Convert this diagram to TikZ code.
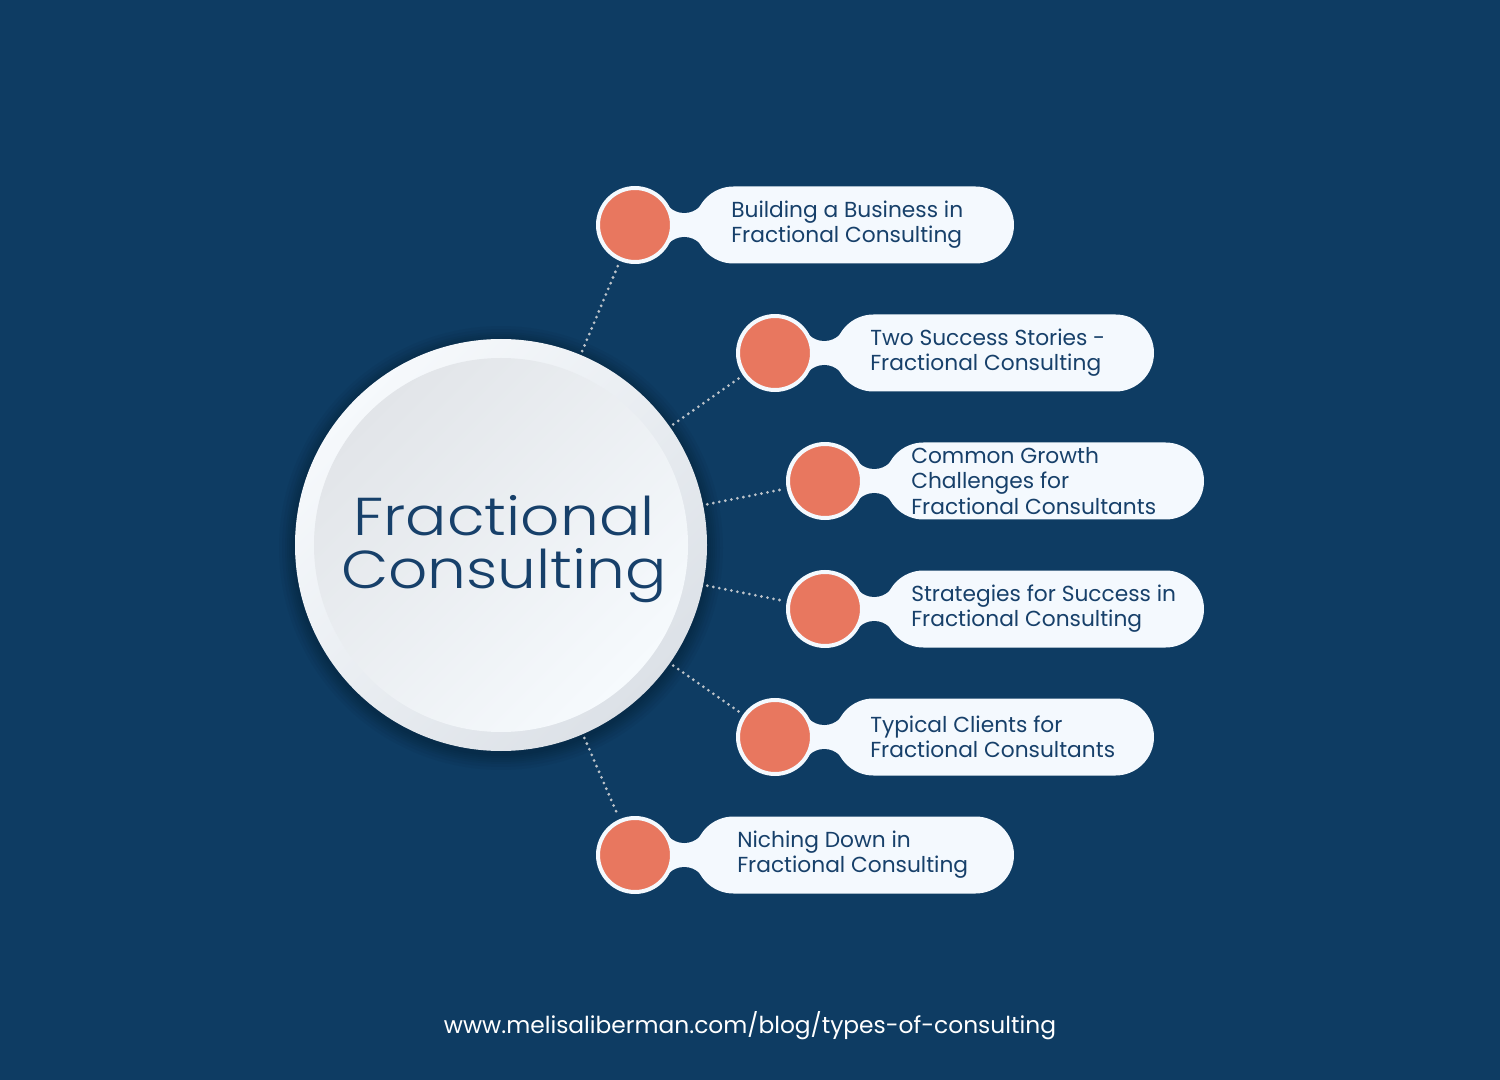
\documentclass[tikz,border=0pt]{standalone}
\usepackage{fontspec}
\setmainfont{Poppins}
\newfontfamily\titlefont[FakeStretch=1.15, UprightFont=* Light]{Poppins}
\definecolor{bgnavy}{HTML}{0E3C63}
\definecolor{orng}{HTML}{E8775F}
\definecolor{pillw}{HTML}{F4F9FE}
\definecolor{txtnavy}{HTML}{17406A}
\definecolor{dotgray}{HTML}{BCC3CA}
\definecolor{ringlight}{HTML}{F6F9FC}
\definecolor{ringdark}{HTML}{DCE1E7}
\definecolor{innerdark}{HTML}{E2E5E9}
\definecolor{innerlight}{HTML}{F6FAFD}
\newcommand\bubble[5]{%
  \fill[pillw] (#2,#3-24) rectangle (#2+98,#3+24);
  \fill[bgnavy] (#2+49.25,#3-33.6) circle (21.6);
  \fill[bgnavy] (#2+49.25,#3+33.6) circle (21.6);
  \fill[pillw,rounded corners=28.875pt] (#2+60,#3-38.5) rectangle (#2+379,#3+38.5);
  \node[orangedot] (#1) at (#2,#3) {};
  \node[itemtext] (#1t) at (#2+#4,#3) {#5};
}
\tikzset{
  orangedot/.style={circle, fill=orng, draw=pillw, line width=3pt, minimum size=55.5pt, inner sep=0pt},
  itemtext/.style={anchor=west, align=left, inner sep=0pt, text=txtnavy, font=\fontsize{16.3}{18.9}\selectfont},
  maincirc/.style={circle, minimum size=309pt, inner sep=0pt},
  titletext/.style={text=txtnavy, align=center, inner sep=0pt, font=\titlefont\fontsize{40}{39.75}\selectfont},
  dotline/.style={draw=dotgray, line width=2.3pt, dash pattern=on 0pt off 4.6pt, line cap=round, shorten <=3pt, shorten >=2pt},
  urltext/.style={text=white, inner sep=0pt, font=\fontsize{17.5}{20}\selectfont}
}
\begin{document}
\begin{tikzpicture}[x=0.75pt,y=-0.75pt]
\fill[bgnavy] (0,0) rectangle (1500,1080);
\useasboundingbox (0,0) rectangle (1500,1080);
% main circle shadow and shading
\foreach \r in {208,210,212,214,216,219,222}{\fill[black,opacity=0.035] (501,548) circle (\r);}
\shade[top color=ringlight, bottom color=ringdark, shading angle=45] (501,545) circle (206);
\shade[top color=innerdark, bottom color=innerlight, shading angle=45] (501,545) circle (187);
\node[maincirc] (main) at (501,545) {};
\node[titletext] (title) at (504,549) {Fractional\\Consulting};
% bubbles
\bubble{b1}{635}{225}{96}{Building a Business in\\Fractional Consulting}
\bubble{b2}{775}{353}{95}{Two Success Stories -\\Fractional Consulting}
\bubble{b3}{825}{481}{86}{Common Growth\\Challenges for\\Fractional Consultants}
\bubble{b4}{825}{609}{86}{Strategies for Success in\\Fractional Consulting}
\bubble{b5}{775}{737}{95}{Typical Clients for\\Fractional Consultants}
\bubble{b6}{635}{855}{102}{Niching Down in\\Fractional Consulting}
% connectors
\foreach \b in {b1,b2,b3,b4,b5,b6}{\draw[dotline] (main) -- (\b);}
\node[urltext] (url) at (750,1026) {www.melisaliberman.com/blog/types-of-consulting};
\end{tikzpicture}
\end{document}
